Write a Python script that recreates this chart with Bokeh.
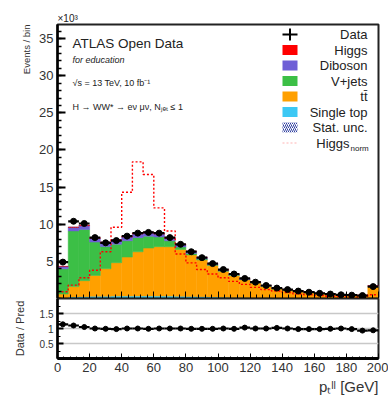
import numpy as np
from bokeh.plotting import figure
from bokeh.models import Label, BoxAnnotation, FixedTicker, Range1d, ColumnDataSource, Title
from bokeh.layouts import column
from bokeh.embed import file_html
from bokeh.resources import INLINE

# ---------------- data (x10^3 events per bin) ----------------
x_lo, x_hi, n_bins = 0, 200, 30
edges = np.linspace(x_lo, x_hi, n_bins + 1)
centers = 0.5 * (edges[:-1] + edges[1:])
bw = edges[1] - edges[0]

data = [4.9, 10.4, 10.1, 8.2, 7.5, 7.8, 8.4, 8.8, 8.9, 8.8, 8.2, 7.3, 6.3, 5.5, 4.7,
        3.9, 3.3, 2.7, 2.2, 1.75, 1.4, 1.2, 1.0, 0.85, 0.7, 0.6, 0.5, 0.45, 0.4, 1.6]
single_top = [0.10, 0.20, 0.25, 0.30, 0.30, 0.32, 0.33, 0.34, 0.34, 0.33, 0.32, 0.30, 0.27, 0.24, 0.21,
              0.18, 0.15, 0.13, 0.11, 0.09, 0.08, 0.07, 0.06, 0.05, 0.04, 0.04, 0.03, 0.03, 0.03, 0.10]
ttbar = [0.5, 1.4, 2.15, 2.8, 3.7, 4.5, 5.25, 5.95, 6.45, 6.65, 6.65, 6.3, 5.6, 4.95, 4.25,
         3.5, 2.95, 2.4, 2.0, 1.55, 1.22, 1.05, 0.87, 0.75, 0.62, 0.52, 0.44, 0.39, 0.37, 1.5]
vjets = [3.4, 7.5, 6.9, 4.5, 3.0, 2.5, 2.2, 1.9, 1.6, 1.3, 0.8, 0.35, 0.2, 0.12, 0.08,
         0.06, 0.05, 0.04, 0.03, 0.03, 0.03, 0.02, 0.02, 0.02, 0.01, 0.01, 0.01, 0.01, 0.01, 0.03]
diboson = [0.30, 0.45, 0.50, 0.50, 0.50, 0.50, 0.50, 0.50, 0.45, 0.40, 0.35, 0.30, 0.25, 0.20, 0.17,
           0.14, 0.12, 0.10, 0.08, 0.07, 0.06, 0.05, 0.04, 0.04, 0.03, 0.03, 0.02, 0.02, 0.02, 0.08]
higgs = [0.04, 0.07, 0.09, 0.10, 0.11, 0.12, 0.13, 0.13, 0.12, 0.11, 0.10, 0.08, 0.06, 0.05, 0.04,
         0.03, 0.03, 0.02, 0.02, 0.01, 0.01, 0.01, 0.01, 0.01, 0.01, 0.01, 0.01, 0.01, 0.01, 0.02]
higgs_norm = [0.9, 1.8, 2.8, 3.8, 6.3, 9.6, 14.3, 18.4, 16.7, 12.2, 9.1, 6.0, 4.8, 3.9, 3.3,
              2.8, 2.3, 1.9, 1.5, 1.2, 1.0, 0.8, 0.6, 0.5, 0.4, 0.3, 0.25, 0.2, 0.18, 0.5]
stat_unc = [0.05, 0.08, 0.08, 0.07, 0.07, 0.07, 0.07, 0.07, 0.07, 0.07, 0.07, 0.06, 0.06, 0.05, 0.05,
            0.04, 0.04, 0.04, 0.03, 0.03, 0.03, 0.03, 0.02, 0.02, 0.02, 0.02, 0.02, 0.02, 0.02, 0.03]
ratio = [1.14, 1.10, 1.05, 1.0, 0.99, 0.98, 1.0, 1.0, 0.99, 1.0, 1.0, 1.0, 0.99, 0.99, 0.99,
         1.0, 0.99, 1.03, 1.0, 1.0, 1.02, 1.0, 0.98, 0.98, 0.98, 0.99, 1.0, 0.98, 0.93, 0.94]

x_ticks = [0, 20, 40, 60, 80, 100, 120, 140, 160, 180, 200]
y_ticks = [5, 10, 15, 20, 25, 30, 35]
ratio_ticks = [0.5, 1, 1.5]

stack_names = ["single_top", "ttbar", "vjets", "diboson", "higgs"]
stack_colors = ["#3cc8f4", "#ffa000", "#3cbf46", "#6f5fd6", "#ff0000"]

FONT = "Liberation Sans"
TXT = "#222222"

# ---------------- main panel ----------------
p = figure(frame_width=321, frame_height=274, x_range=Range1d(x_lo, x_hi), y_range=Range1d(0, 36.9),
           output_backend="svg", toolbar_location=None,
           min_border_left=57, min_border_right=10, min_border_top=24, min_border_bottom=0)
p.grid.visible = False
p.outline_line_color = "#222222"
p.outline_line_width = 2

p.title.text = "×10³"
p.title.align = "left"
p.title.text_font = FONT
p.title.text_font_size = "10px"
p.title.text_font_style = "normal"
p.title.text_color = TXT
p.title.standoff = 1

src = ColumnDataSource(dict(x=centers, single_top=single_top, ttbar=ttbar, vjets=vjets,
                            diboson=diboson, higgs=higgs))
p.vbar_stack(stack_names, x="x", width=bw, color=stack_colors, line_width=0.5, source=src)

total = np.sum([single_top, ttbar, vjets, diboson, higgs], axis=0)
p.quad(left=edges[:-1], right=edges[1:], bottom=total - np.array(stat_unc), top=total + np.array(stat_unc),
       fill_alpha=0, line_alpha=0, hatch_pattern="right_diagonal_line", hatch_color="#3040a0",
       hatch_scale=4, hatch_weight=0.8)

p.step(x=edges, y=list(higgs_norm) + [higgs_norm[-1]], mode="after", line_color="#ff0000",
       line_dash="2 2", line_width=1.4)

p.segment(x0=edges[:-1], x1=edges[1:], y0=data, y1=data, line_color="black", line_width=2.2)
p.scatter(x=centers, y=data, marker="circle", size=6, fill_color="black", line_color="black")

p.xaxis.ticker = FixedTicker(ticks=x_ticks, minor_ticks=list(range(0, 201, 4)))
p.xaxis.major_label_overrides = {t: "" for t in x_ticks}
p.xaxis.major_label_text_font_size = "1px"
p.xaxis.major_label_standoff = 0
p.xaxis.major_tick_in = 7
p.xaxis.major_tick_out = 0
p.xaxis.minor_tick_in = 4
p.xaxis.minor_tick_out = 0
p.xaxis.axis_line_width = 2

p.yaxis.ticker = FixedTicker(ticks=y_ticks, minor_ticks=list(range(0, 37)))
p.yaxis.major_tick_in = 8
p.yaxis.major_tick_out = 0
p.yaxis.minor_tick_in = 4
p.yaxis.minor_tick_out = 0
p.yaxis.major_tick_line_width = 2
p.yaxis.minor_tick_line_width = 1.5
p.yaxis.axis_line_width = 2.5
p.yaxis.major_label_text_font = FONT
p.yaxis.major_label_text_font_size = "13px"
p.yaxis.major_label_standoff = 4
p.yaxis.major_label_text_color = "#333333"

p.add_layout(Title(text="Events / bin", align="right", text_font=FONT, text_font_size="9.5px",
                   text_font_style="normal", text_color="#333333", standoff=10), "left")


def lab(fig, x, y, text, size, align="left", baseline="alphabetic", style="normal"):
    fig.add_layout(Label(x=x, y=y, x_units="screen", y_units="screen", text=text, text_font=FONT,
                         text_font_size=size, text_align=align, text_baseline=baseline,
                         text_font_style=style, text_color=TXT))


lab(p, 15, 255, "ATLAS Open Data", "13.5px")
lab(p, 15, 239, "for education", "9px", style="italic")
lab(p, 15, 216, "√s = 13 TeV, 10 fb⁻¹", "9px")
lab(p, 15, 192, "H → WW* → eν μν, Nⱼₑₜ ≤ 1", "9px")

# legend
legend_labels = ["Data", "Higgs", "Diboson", "V+jets", "tt̄", "Single top", "Stat. unc.", "Higgs"]
rows = [298 - (34 + 15.5 * k) for k in range(8)]
sw_l, sw_r = 225, 240


def box(**kw):
    p.add_layout(BoxAnnotation(left_units="screen", right_units="screen", top_units="screen",
                               bottom_units="screen", **kw))


for k, (txt, yy) in enumerate(zip(legend_labels, rows)):
    if k == 0:
        box(left=sw_l, right=sw_r, top=yy + 1, bottom=yy - 1, fill_color="black", fill_alpha=1, line_alpha=0)
        box(left=231.5, right=233.5, top=yy + 6, bottom=yy - 6, fill_color="black", fill_alpha=1, line_alpha=0)
    elif 1 <= k <= 5:
        box(left=sw_l, right=sw_r, top=yy + 5, bottom=yy - 5, fill_color=stack_colors[5 - k],
            fill_alpha=1, line_alpha=0)
    elif k == 6:
        box(left=sw_l, right=sw_r, top=yy + 5, bottom=yy - 5, fill_alpha=0, line_alpha=0,
            hatch_pattern="right_diagonal_line", hatch_color="#3040a0", hatch_scale=4, hatch_weight=1)
    else:
        box(left=sw_l, right=sw_r, top=yy, bottom=yy, fill_alpha=0, line_color="#ff0000",
            line_dash="2 2", line_width=1.2)
    if k == 7:
        lab(p, 292, yy, txt, "13px", align="right", baseline="middle")
        lab(p, 293, yy - 5, "norm", "8px", baseline="middle")
    else:
        lab(p, 310, yy, txt, "13px", align="right", baseline="middle")

# ---------------- ratio panel ----------------
p2 = figure(frame_width=321, frame_height=60, x_range=p.x_range, y_range=Range1d(0, 2),
            output_backend="svg", toolbar_location=None,
            min_border_left=57, min_border_right=10, min_border_top=0, min_border_bottom=40)
p2.outline_line_color = "#222222"
p2.outline_line_width = 2
p2.xgrid.visible = False
p2.ygrid.ticker = FixedTicker(ticks=ratio_ticks)
p2.ygrid.grid_line_color = "#c8c8c8"
p2.ygrid.grid_line_width = 1.5

p2.segment(x0=edges[:-1], x1=edges[1:], y0=ratio, y1=ratio, line_color="black", line_width=2.2)
p2.scatter(x=centers, y=ratio, marker="circle", size=5, fill_color="black", line_color="black")

p2.xaxis.ticker = FixedTicker(ticks=x_ticks, minor_ticks=list(range(0, 201, 4)))
p2.xaxis.major_tick_in = 5
p2.xaxis.major_tick_out = 0
p2.xaxis.minor_tick_in = 2
p2.xaxis.minor_tick_out = 0
p2.xaxis.axis_line_width = 3
p2.xaxis.major_label_text_font = FONT
p2.xaxis.major_label_text_font_size = "13px"
p2.xaxis.major_label_standoff = 4
p2.xaxis.major_label_text_color = "#333333"

p2.yaxis.ticker = FixedTicker(ticks=ratio_ticks, minor_ticks=[0.25, 0.5, 0.75, 1, 1.25, 1.5, 1.75])
p2.yaxis.major_tick_in = 6
p2.yaxis.major_tick_out = 0
p2.yaxis.minor_tick_in = 3
p2.yaxis.minor_tick_out = 0
p2.yaxis.major_tick_line_width = 2
p2.yaxis.axis_line_width = 2.5
p2.yaxis.major_label_text_font = FONT
p2.yaxis.major_label_text_font_size = "10px"
p2.yaxis.major_label_standoff = 4
p2.yaxis.major_label_text_color = "#333333"
p2.yaxis.axis_label = "Data / Pred"
p2.yaxis.axis_label_text_font = FONT
p2.yaxis.axis_label_text_font_size = "11px"
p2.yaxis.axis_label_text_font_style = "normal"
p2.yaxis.axis_label_text_color = "#333333"
p2.yaxis.axis_label_standoff = 11

p2.add_layout(Title(text="pₜˡˡ [GeV]", align="right", text_font=FONT, text_font_size="15px",
                    text_font_style="normal", text_color="#333333", standoff=2), "below")

layout = column(p, p2, spacing=0)
open("out.html", "w").write(file_html(layout, INLINE))
